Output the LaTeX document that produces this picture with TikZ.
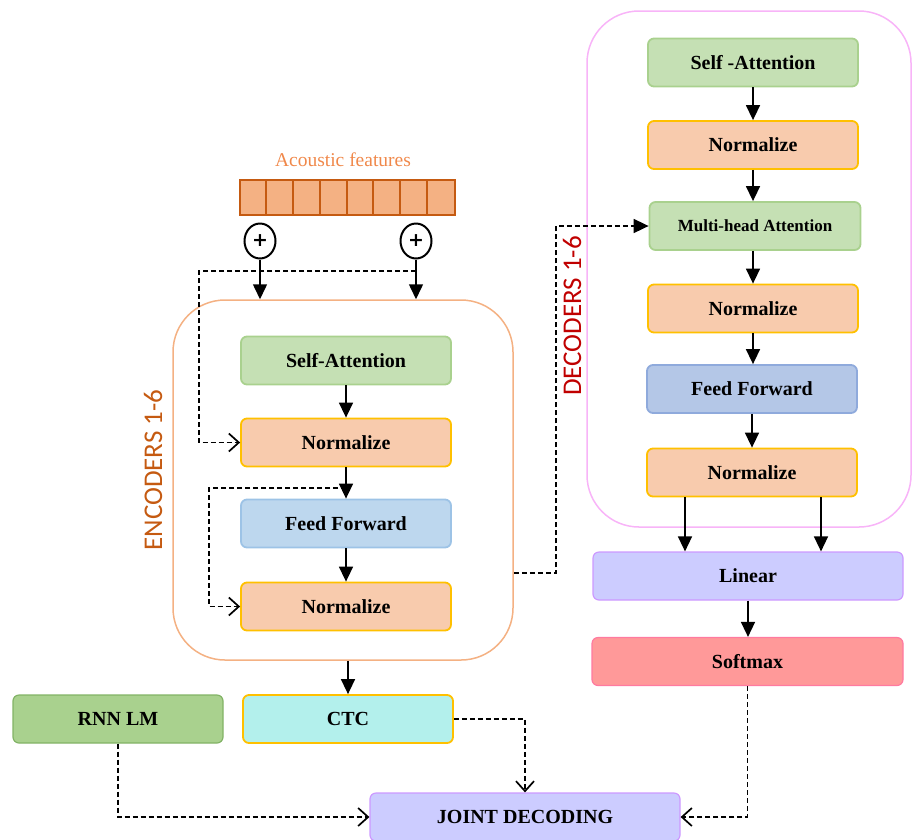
\documentclass[tikz,border=0pt]{standalone}
\usepackage{fontspec}
\setmainfont{Liberation Serif}
\newfontfamily\labfont{Carlito}
\newfontfamily\plusfont{DejaVu Sans}
\usetikzlibrary{arrows.meta,shapes.geometric,calc}
\definecolor{encstroke}{HTML}{F4B183}
\definecolor{featfill}{HTML}{F4B183}
\definecolor{featdraw}{HTML}{C55A11}
\definecolor{enctext}{HTML}{C55A11}
\definecolor{dectext}{HTML}{C00000}
\definecolor{decstroke}{HTML}{F8B4F8}
\definecolor{grfill}{HTML}{C5E0B4}
\definecolor{grdraw}{HTML}{A9D18E}
\definecolor{nofill}{HTML}{F8CBAD}
\definecolor{nodraw}{HTML}{FFC000}
\definecolor{ffefill}{HTML}{BDD7EE}
\definecolor{ffedraw}{HTML}{9DC3E6}
\definecolor{ffdfill}{HTML}{B4C7E7}
\definecolor{ffddraw}{HTML}{8FAADC}
\definecolor{pufill}{HTML}{CCCCFF}
\definecolor{pudraw}{HTML}{CC99FF}
\definecolor{smfill}{HTML}{FF9999}
\definecolor{smdraw}{HTML}{FF7AA0}
\definecolor{ctcfill}{HTML}{B3F0EC}
\definecolor{rnnfill}{HTML}{A9D18E}
\definecolor{rnndraw}{HTML}{82B366}
\definecolor{acotext}{HTML}{F0884A}
\begin{document}
\begin{tikzpicture}[x=1pt,y=-1pt,
  box/.style={rectangle,rounded corners=6pt,minimum width=210pt,minimum height=48pt,line width=1.8pt,
     font=\fontsize{20}{22}\selectfont\bfseries,inner sep=0pt},
  grbox/.style={box,fill=grfill,draw=grdraw},
  nobox/.style={box,fill=nofill,draw=nodraw},
  ffebox/.style={box,fill=ffefill,draw=ffedraw},
  ffdbox/.style={box,fill=ffdfill,draw=ffddraw},
  pubox/.style={box,fill=pufill,draw=pudraw,line width=1.2pt},
  container/.style={rectangle,rounded corners=52pt,line width=1.5pt,inner sep=0pt},
  arr/.style={line width=1.5pt,-{Triangle[width=14pt,length=15pt]}},
  dsh/.style={line width=1.7pt,dash pattern=on 5pt off 3pt},
  oarr/.style={dsh,-{Straight Barb[length=10pt,width=18pt,line width=1.7pt]}},
  farr/.style={dsh,-{Triangle[width=14pt,length=15pt]}},
  plus/.style={ellipse,draw,line width=2pt,minimum width=31pt,minimum height=35pt,inner sep=0pt,
     font=\plusfont\fontsize{19}{19}\selectfont\bfseries},
  grp/.style={font=\labfont\fontsize{27}{27}\selectfont,rotate=90}
]
\useasboundingbox (0,0) rectangle (912,839);

% ---------- encoder side ----------
\node[font=\fontsize{19.5}{20}\selectfont,text=acotext] (aco) at (343,160) {Acoustic features};
\node[rectangle,draw=featdraw,fill=featfill,line width=2pt,minimum width=215pt,minimum height=35pt,inner sep=0pt] (feat) at (347.5,197.5) {};
\foreach \i in {1,...,7} {
  \draw[featdraw,line width=2pt] ($(feat.north west)+(\i*26.875,0)$) -- ($(feat.south west)+(\i*26.875,0)$);
}
\node[plus] (c1) at (260,241) {+};
\node[plus] (c2) at (416,241) {+};

\node[container,draw=encstroke,minimum width=340pt,minimum height=360pt] (enc) at (343,480) {};
\node[grp,text=enctext] (enclab) at (153,470) {ENCODERS 1-6};

\node[grbox] (esa) at (346,360.5) {Self-Attention};
\node[nobox] (en1) at (346,442.5) {Normalize};
\node[ffebox] (eff) at (346,523.5) {Feed Forward};
\node[nobox] (en2) at (346,606.5) {Normalize};

\draw[arr] (c1.south) -- (c1.south |- enc.north);
\draw[arr] (c2.south) -- (c2.south |- enc.north);
\coordinate (k1) at (199,271);
\draw[oarr] (c2.south |- k1) -- (k1) |- (en1.west);

\draw[arr] (esa.south) -- (en1.north);
\draw[arr] (en1.south) -- (eff.north);
\coordinate (k2) at (209,488);
\draw[oarr] (en1.south |- k2) -- (k2) |- (en2.west);
\draw[arr] (eff.south) -- (en2.north);

% ---------- bottom ----------
\node[box,fill=ctcfill,draw=nodraw] (ctc) at (348,719) {CTC};
\node[box,fill=rnnfill,draw=rnndraw,line width=1.2pt] (rnn) at (118,719) {RNN LM};
\node[pubox,minimum width=310pt] (jd) at (525,817) {JOINT DECODING};

\draw[arr] (ctc.north |- enc.south) -- (ctc.north);

% ---------- decoder side ----------
\node[container,draw=decstroke,minimum width=324pt,minimum height=516pt] (dec) at (749,269) {};
\node[grp,text=dectext] (declab) at (572,316) {DECODERS 1-6};

\node[grbox] (dsa) at (753,62.5) {Self -Attention};
\node[nobox] (dn1) at (753,145) {Normalize};
\node[grbox,minimum width=211pt,font=\fontsize{17}{19}\selectfont\bfseries] (mha) at (755,226) {Multi-head Attention};
\node[nobox] (dn2) at (753,308.5) {Normalize};
\node[ffdbox] (dff) at (752,389) {Feed Forward};
\node[nobox] (dn3) at (752,472.5) {Normalize};
\node[pubox,minimum width=310pt] (lin) at (748,576) {Linear};
\node[box,fill=smfill,draw=smdraw,line width=1.2pt,minimum width=311pt] (soft) at (747.5,661.5) {Softmax};

\draw[arr] (dsa.south) -- (dn1.north);
\draw[arr] (dn1.south) -- (dn1.south |- mha.north);
\draw[arr] (mha.south -| dn2.north) -- (dn2.north);
\draw[arr] (dn2.south) -- (dn2.south |- dff.north);
\draw[arr] (dff.south) -- (dn3.north);
\draw[arr] ([xshift=-67pt]dn3.south) -- ([xshift=-67pt]dn3.south |- lin.north);
\draw[arr] ([xshift=69pt]dn3.south) -- ([xshift=69pt]dn3.south |- lin.north);
\draw[arr] (lin.south) -- (lin.south |- soft.north);

% encoder -> decoder
\coordinate (k3) at (556,573);
\draw[farr] (enc.east |- k3) -- (k3) |- (mha.west);

% into joint decoding
\draw[oarr] (rnn.south) |- (jd.west);
\draw[oarr] (ctc.east) -| (jd.north);
\draw[oarr] (soft.south) |- (jd.east);
\end{tikzpicture}
\end{document}
